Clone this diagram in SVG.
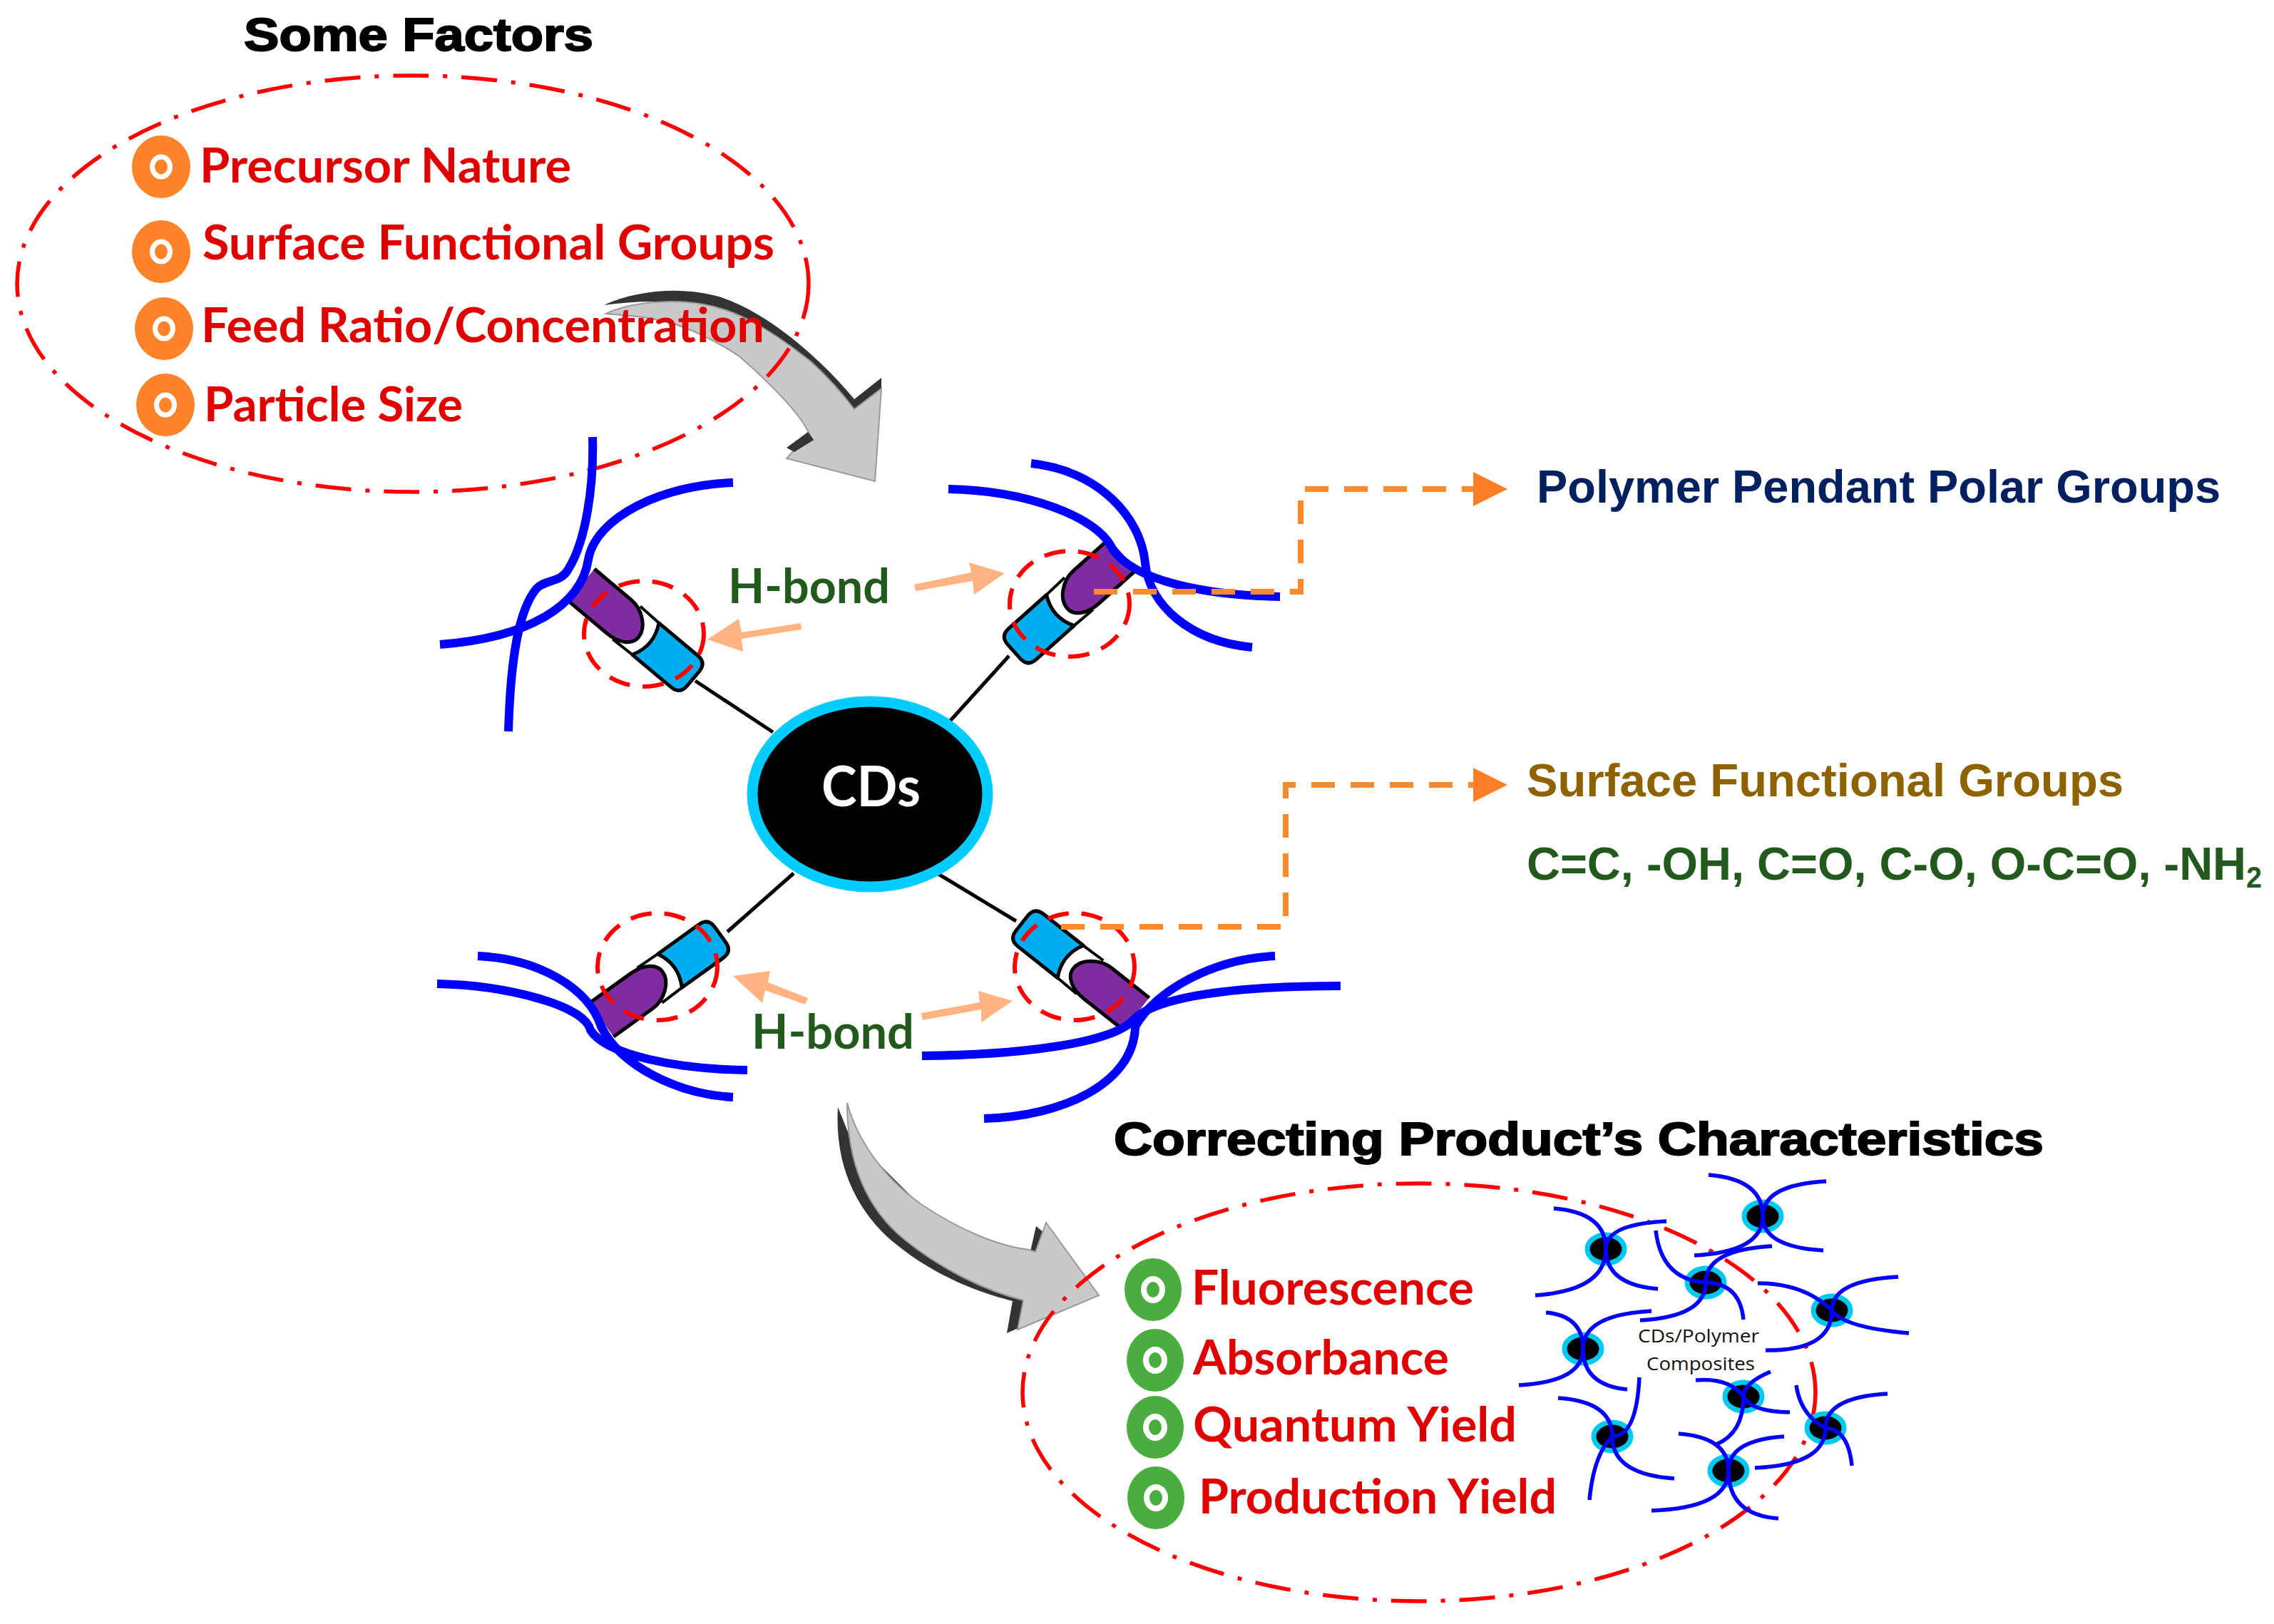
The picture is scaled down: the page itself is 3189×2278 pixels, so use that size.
<svg xmlns="http://www.w3.org/2000/svg" xmlns:xlink="http://www.w3.org/1999/xlink" width="3189" height="2278" viewBox="0 0 3189 2278">
<style>
.bg{fill:#fff}
.head{font-family:"Liberation Sans",Arial,sans-serif;font-weight:700;font-size:64px;fill:#000;stroke:#000;stroke-width:2px}
.red{font-family:Lato,"Liberation Sans",sans-serif;font-weight:700;font-size:67px;fill:#df0000}
.hb{font-family:Lato,"Liberation Sans",sans-serif;font-weight:700;font-size:67px;fill:#215a1c}
.ar{font-family:"Liberation Sans",Arial,sans-serif;font-weight:700;font-size:64px}
.cds{font-family:Lato,"Liberation Sans",sans-serif;font-weight:700;font-size:78px;fill:#fff}
.small{font-family:"Open Sans","Liberation Sans",sans-serif;font-size:26px;fill:#111}
.elps{fill:none;stroke:#f00;stroke-width:5.5;stroke-dasharray:50 20 6 20}
.dash{fill:none;stroke:#f00;stroke-width:6;stroke-dasharray:30 18}
.blue{fill:none;stroke:#00f;stroke-width:12}
.bluet{fill:none;stroke:#00f;stroke-width:5.5}
.stem{stroke:#000;stroke-width:5;fill:none}
.org{fill:none;stroke:#ff8a2b;stroke-width:8;stroke-dasharray:33 22}
.orgh{fill:#ff7f27}
.pch{fill:#ffb482}
.gray{fill:#c9c9c9;stroke:#9a9a9a;stroke-width:2}
.dark{fill:#333}
</style>
<defs>
<g id="capsule">
<path d="M87,-29 L16,-29 Q0,-29 0,-13 L0,13 Q0,29 16,29 L87,29 Q71,0 87,-29 Z" fill="#00aeef" stroke="#000" stroke-width="5" stroke-linejoin="round"/>
<path d="M87,-29 L122,-30 M87,29 L122,30" fill="none" stroke="#000" stroke-width="4"/>
<path d="M205,-29 L138,-29 C116,-29 96,-12 96,5 C96,19 112,29 134,29 L205,29" fill="#7f2ca0" stroke="#000" stroke-width="5"/>
</g>
<g id="bulO"><ellipse rx="41" ry="44" fill="#ff8329"/><ellipse rx="12.5" ry="14" fill="none" stroke="#fff" stroke-width="7"/></g>
<g id="bulG"><ellipse rx="40" ry="44" fill="#4aae3e"/><ellipse rx="13" ry="15" fill="none" stroke="#fff" stroke-width="8"/></g>
<ellipse id="core" rx="26" ry="20" fill="#000" stroke="#00c8f0" stroke-width="7"/>
</defs>
<rect class="bg" width="3189" height="2278"/>

<g id="arrow-top">
<path class="dark" d="M847,428 C890,408 950,402 1000,414 C1060,428 1140,490 1198,560 L1236,530 L1236,552 L1198,578 L1137,510 C1080,465 1040,440 987,430 C940,420 890,422 847,428 Z"/>
<path class="gray" d="M850,440 C880,425 940,418 987,427 C1040,436 1090,470 1137,507 C1160,528 1180,550 1198,574 L1236,545 L1227,675 L1103,643 L1114,631 L1140,617 L1132,603 C1115,570 1060,520 1037,500 C1000,475 960,458 937,452 C905,444 875,442 850,440 Z"/>
<path class="dark" d="M1103,628 L1133,606 L1141,617 L1114,634 Z"/>
</g>
<g id="arrow-bottom">
<path class="dark" d="M1175,1553 C1170,1640 1205,1700 1250,1740 C1310,1790 1370,1812 1420,1825 L1412,1870 L1430,1862 L1440,1822 L1300,1700 L1190,1590 Z"/>
<path class="dark" d="M1445,1755 L1453,1720 L1465,1730 L1457,1758 Z"/>
<path class="gray" d="M1188,1547 C1205,1610 1250,1660 1293,1690 C1345,1725 1400,1748 1443,1753 L1452,1756 L1467,1715 L1541,1817 L1427,1865 L1435,1824 C1380,1810 1320,1780 1270,1740 C1220,1700 1188,1640 1188,1547 Z"/>
</g>

<ellipse id="factors-ellipse" class="elps" cx="579" cy="398" rx="555" ry="292"/>
<ellipse id="characteristics-ellipse" class="elps" cx="1990" cy="1953" rx="556" ry="293"/>

<text class="head" x="342" y="71" textLength="490" lengthAdjust="spacingAndGlyphs">Some Factors</text>
<text class="head" x="1562" y="1620" textLength="1304" lengthAdjust="spacingAndGlyphs">Correcting Product’s Characteristics</text>

<g id="factor-1"><use xlink:href="#bulO" href="#bulO" x="226" y="234"/><text class="red" x="280" y="256" textLength="521" lengthAdjust="spacingAndGlyphs">Precursor Nature</text></g>
<g id="factor-2"><use xlink:href="#bulO" href="#bulO" x="226" y="353"/><text class="red" x="284" y="364" textLength="802" lengthAdjust="spacingAndGlyphs">Surface Functional Groups</text></g>
<g id="factor-3"><use xlink:href="#bulO" href="#bulO" x="230" y="461"/><text class="red" x="282" y="480" textLength="790" lengthAdjust="spacingAndGlyphs">Feed Ratio/Concentration</text></g>
<g id="factor-4"><use xlink:href="#bulO" href="#bulO" x="232" y="568"/><text class="red" x="286" y="591" textLength="363" lengthAdjust="spacingAndGlyphs">Particle Size</text></g>

<g id="connectors">
<path class="stem" d="M1084,1027 L975,955"/>
<path class="stem" d="M1329,1015 L1415,920"/>
<path class="stem" d="M1113,1225 L1020,1307"/>
<path class="stem" d="M1316,1226 L1425,1292"/>
</g>

<g id="cap-tl"><use xlink:href="#capsule" href="#capsule" transform="translate(972,952) rotate(220) scale(1,-1)"/></g>
<g id="cap-tr"><use xlink:href="#capsule" href="#capsule" transform="translate(1422,914) rotate(-41.8)"/></g>
<g id="cap-bl"><use xlink:href="#capsule" href="#capsule" transform="translate(1010,1311) rotate(144.3)"/></g>
<g id="cap-br"><use xlink:href="#capsule" href="#capsule" transform="translate(1433,1295) rotate(38.4)"/></g>

<g id="polymer-chains">
<path class="blue" d="M831,613 C833,680 822,760 796,800 C785,818 765,812 752,826 C728,855 716,920 713,1026"/>
<path class="blue" d="M1028,677 C930,680 835,725 825,785 C815,850 740,895 617,904"/>
<path class="blue" d="M1330,686 C1440,688 1540,725 1560,770 C1590,815 1690,835 1795,837"/>
<path class="blue" d="M1446,650 C1540,660 1600,725 1606,790 C1612,850 1670,900 1756,908"/>
<path class="blue" d="M670,1341 C755,1345 825,1385 843,1440 C870,1495 950,1535 1028,1539"/>
<path class="blue" d="M613,1380 C710,1382 820,1410 828,1445 C850,1480 950,1500 1048,1501"/>
<path class="blue" d="M1788,1341 C1700,1345 1620,1390 1592,1440 C1590,1520 1490,1566 1380,1569"/>
<path class="blue" d="M1880,1383 C1780,1383 1630,1390 1590,1430 C1560,1465 1420,1480 1293,1481"/>
</g>

<g id="hbond-rings">
<ellipse class="dash" cx="903" cy="889" rx="84" ry="74"/>
<ellipse class="dash" cx="1500" cy="847" rx="84" ry="74"/>
<ellipse class="dash" cx="922" cy="1356" rx="84" ry="75"/>
<ellipse class="dash" cx="1507" cy="1356" rx="84" ry="75"/>
</g>

<g id="cds-core">
<ellipse cx="1220" cy="1114" rx="165" ry="130" fill="#000" stroke="#00ccff" stroke-width="15"/>
<text class="cds" x="1152" y="1131" textLength="139" lengthAdjust="spacingAndGlyphs">CDs</text>
</g>

<g id="hbond-labels">
<text class="hb" x="1021" y="846" textLength="227" lengthAdjust="spacingAndGlyphs">H-bond</text>
<text class="hb" x="1054" y="1471" textLength="228" lengthAdjust="spacingAndGlyphs">H-bond</text>
</g>

<g id="hbond-arrows">
<path class="pch" d="M1282,820 L1362,803 L1359,789 L1409,804 L1366,834 L1364,815 L1284,829 Z"/>
<path class="pch" d="M1123,874 L1040,887 L1036,868 L992,897 L1042,914 L1040,896 L1124,883 Z"/>
<path class="pch" d="M1133,1400 L1077,1378 L1080,1362 L1028,1369 L1069,1407 L1073,1389 L1129,1409 Z"/>
<path class="pch" d="M1292,1421 L1374,1406 L1372,1390 L1420,1404 L1376,1434 L1376,1416 L1294,1431 Z"/>
</g>

<g id="links">
<path class="org" d="M1534,830 H1824 V686 H2066"/>
<path class="orgh" d="M2066,662 L2114,686 L2066,710 Z"/>
<path class="org" d="M1488,1300 H1803 V1101 H2066"/>
<path class="orgh" d="M2066,1077 L2114,1101 L2066,1125 Z"/>
</g>

<text id="label-polymer" class="ar" x="2155" y="705" fill="#002060" textLength="959" lengthAdjust="spacingAndGlyphs">Polymer Pendant Polar Groups</text>
<text id="label-surface" class="ar" x="2141" y="1117" fill="#8f6200" textLength="837" lengthAdjust="spacingAndGlyphs">Surface Functional Groups</text>
<text id="label-groups" class="ar" fill="#215a1c"><tspan x="2141" y="1234" textLength="1009" lengthAdjust="spacingAndGlyphs">C=C, -OH, C=O, C-O, O-C=O, -NH</tspan><tspan x="3150" y="1245" font-size="42" textLength="22" lengthAdjust="spacingAndGlyphs">2</tspan></text>

<g id="char-1"><use xlink:href="#bulG" href="#bulG" x="1617" y="1809"/><text class="red" x="1671" y="1830" textLength="396" lengthAdjust="spacingAndGlyphs">Fluorescence</text></g>
<g id="char-2"><use xlink:href="#bulG" href="#bulG" x="1620" y="1908"/><text class="red" x="1673" y="1928" textLength="359" lengthAdjust="spacingAndGlyphs">Absorbance</text></g>
<g id="char-3"><use xlink:href="#bulG" href="#bulG" x="1620" y="2002"/><text class="red" x="1673" y="2022" textLength="454" lengthAdjust="spacingAndGlyphs">Quantum Yield</text></g>
<g id="char-4"><use xlink:href="#bulG" href="#bulG" x="1621" y="2101"/><text class="red" x="1681" y="2123" textLength="502" lengthAdjust="spacingAndGlyphs">Production Yield</text></g>

<g id="composites">
<g id="s1"><use xlink:href="#core" href="#core" x="2472" y="1706"/><path class="bluet" d="M2472,1706 Q2472,1654 2396,1648 M2472,1706 Q2472,1662 2561,1657 M2472,1706 Q2472,1756 2376,1761 M2472,1706 Q2472,1749 2557,1754"/></g>
<g id="s2"><use xlink:href="#core" href="#core" x="2252" y="1752"/><path class="bluet" d="M2252,1752 Q2252,1701 2179,1695 M2252,1752 Q2252,1717 2337,1713 M2252,1752 Q2252,1810 2153,1817 M2252,1752 Q2252,1802 2325,1808"/></g>
<g id="s3"><use xlink:href="#core" href="#core" x="2392" y="1799"/><path class="bluet" d="M2392,1799 Q2330,1795 2322,1726 M2392,1799 Q2392,1753 2485,1748 M2392,1799 Q2392,1847 2300,1852 M2392,1799 Q2440,1800 2445,1851"/></g>
<g id="s4"><use xlink:href="#core" href="#core" x="2569" y="1838"/><path class="bluet" d="M2569,1838 Q2530,1800 2465,1800 M2569,1838 Q2569,1796 2662,1791 M2569,1838 Q2569,1895 2476,1894 M2569,1838 Q2585,1862 2677,1870"/></g>
<g id="s5"><use xlink:href="#core" href="#core" x="2220" y="1892"/><path class="bluet" d="M2220,1892 Q2220,1846 2168,1841 M2220,1892 Q2220,1844 2316,1839 M2220,1892 Q2220,1938 2130,1943 M2220,1892 Q2220,1943 2282,1949"/></g>
<g id="s6"><use xlink:href="#core" href="#core" x="2445" y="1959"/><path class="bluet" d="M2445,1959 Q2425,1932 2378,1936 M2445,1959 Q2445,1940 2483,1924 M2445,1959 Q2445,2010 2407,2026 M2445,1959 Q2455,1980 2510,1981"/></g>
<g id="s7"><use xlink:href="#core" href="#core" x="2560" y="2003"/><path class="bluet" d="M2560,2003 Q2525,1985 2519,1943 M2560,2003 Q2560,1960 2647,1955 M2560,2003 Q2560,2055 2461,2059 M2560,2003 Q2592,2005 2597,2056"/></g>
<g id="s8"><use xlink:href="#core" href="#core" x="2261" y="2015"/><path class="bluet" d="M2261,2015 Q2261,1966 2185,1961 M2261,2015 Q2295,2015 2299,1932 M2261,2015 Q2235,2040 2229,2104 M2261,2015 Q2261,2068 2348,2074"/></g>
<g id="s9"><use xlink:href="#core" href="#core" x="2424" y="2063"/><path class="bluet" d="M2424,2063 Q2424,2016 2354,2011 M2424,2063 Q2424,2020 2502,2015 M2424,2063 Q2424,2115 2316,2119 M2424,2063 Q2424,2125 2494,2130"/></g>
<text class="small" x="2297" y="1883" textLength="170" lengthAdjust="spacingAndGlyphs">CDs/Polymer</text>
<text class="small" x="2309" y="1922" textLength="152" lengthAdjust="spacingAndGlyphs">Composites</text>
</g>
</svg>
